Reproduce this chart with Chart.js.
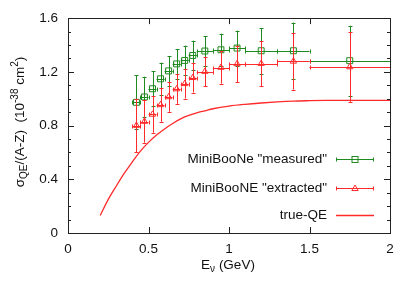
<!DOCTYPE html>
<html>
<head>
<meta charset="utf-8">
<script src="https://cdn.jsdelivr.net/npm/chart.js@4.4.0/dist/chart.umd.min.js"></script>
<style>
  html, body { margin: 0; padding: 0; background: #fff; }
</style>
</head>
<body>
<canvas id="qeChart" width="415" height="291"></canvas>
<script>
// MiniBooNE energy bins (GeV)
const energies = [0.425, 0.475, 0.525, 0.575, 0.625, 0.675, 0.725, 0.775, 0.85, 0.95, 1.05, 1.2, 1.4, 1.75];
const binLow   = [0.40, 0.45, 0.50, 0.55, 0.60, 0.65, 0.70, 0.75, 0.80, 0.90, 1.00, 1.10, 1.30, 1.50];
const binHigh  = [0.45, 0.50, 0.55, 0.60, 0.65, 0.70, 0.75, 0.80, 0.90, 1.00, 1.10, 1.30, 1.50, 2.00];

const measured    = [0.973, 1.013, 1.074, 1.148, 1.207, 1.259, 1.285, 1.322, 1.355, 1.364, 1.377, 1.357, 1.357, 1.283];
const measuredErr = [0.20, 0.15, 0.13, 0.12, 0.11, 0.11, 0.11, 0.11, 0.11, 0.12, 0.13, 0.17, 0.21, 0.26];

const extracted    = [0.800, 0.830, 0.883, 0.954, 1.013, 1.072, 1.111, 1.156, 1.202, 1.232, 1.259, 1.261, 1.278, 1.236];
const extractedErr = [0.20, 0.157, 0.136, 0.126, 0.11, 0.11, 0.11, 0.11, 0.11, 0.12, 0.136, 0.166, 0.21, 0.26];

// true-QE curve
const curveE     = [0.2, 0.25, 0.3, 0.35, 0.4, 0.45, 0.5, 0.55, 0.6, 0.65, 0.7, 0.75, 0.8, 0.85, 0.9, 1.0, 1.1, 1.2, 1.3, 1.4, 1.5, 1.6, 1.8, 2.0];
const curveSigma = [0.13, 0.25, 0.35, 0.445, 0.53, 0.61, 0.675, 0.73, 0.775, 0.815, 0.85, 0.875, 0.895, 0.91, 0.925, 0.945, 0.958, 0.968, 0.976, 0.982, 0.985, 0.987, 0.988, 0.988];

const legendLabels = ['MiniBooNe "measured"', 'MiniBooNE "extracted"', 'true-QE'];

const GREEN = '#1f8a1f';
const RED = '#ff2a2a';
const FONT = '"Liberation Sans", Arial, sans-serif';

Chart.defaults.font.family = FONT;
Chart.defaults.font.size = 13.5;
Chart.defaults.color = '#111';

const toPoints = (xs, ys) => xs.map((x, i) => ({ x: x, y: ys[i] }));

// error bars drawn just before each dataset's markers
const errorBars = {
    id: 'errorBars',
    beforeDatasetDraw(chart, args) {
        const ds = chart.data.datasets[args.index];
        if (!ds.yErr) return;
        const xs = chart.scales.x, ys = chart.scales.y;
        const ctx = chart.ctx;
        const r = v => Math.round(v) + 0.5;
        ctx.save();
        ctx.strokeStyle = ds.borderColor;
        ctx.lineWidth = 1;
        ds.data.forEach((p, i) => {
            const px = r(xs.getPixelForValue(p.x));
            const py = r(ys.getPixelForValue(p.y));
            const yt = ys.getPixelForValue(p.y + ds.yErr[i]);
            const yb = ys.getPixelForValue(p.y - ds.yErr[i]);
            const x0 = xs.getPixelForValue(ds.xLow[i]);
            const x1 = xs.getPixelForValue(ds.xHigh[i]);
            ctx.beginPath();
            ctx.moveTo(px, yt); ctx.lineTo(px, yb);
            ctx.moveTo(px - 2, r(yt)); ctx.lineTo(px + 2, r(yt));
            ctx.moveTo(px - 2, r(yb)); ctx.lineTo(px + 2, r(yb));
            ctx.moveTo(x0, py); ctx.lineTo(x1, py);
            ctx.moveTo(r(x0), py - 2); ctx.lineTo(r(x0), py + 2);
            ctx.moveTo(r(x1), py - 2); ctx.lineTo(r(x1), py + 2);
            ctx.stroke();
        });
        ctx.restore();
    }
};

// gnuplot-style frame with inward ticks on all sides
const frame = {
    id: 'frame',
    afterDatasetsDraw(chart) {
        const { ctx, chartArea: a } = chart;
        const xs = chart.scales.x, ys = chart.scales.y;
        ctx.save();
        ctx.strokeStyle = '#222';
        ctx.lineWidth = 1;
        ctx.strokeRect(Math.round(a.left) + 0.5, Math.round(a.top) + 0.5,
            Math.round(a.right - a.left), Math.round(a.bottom - a.top));
        ctx.beginPath();
        for (let i = 1; i < 16; i++) {
            const py = Math.round(ys.getPixelForValue(i / 10)) + 0.5;
            const len = i % 4 === 0 ? 6 : 3;
            ctx.moveTo(a.left, py); ctx.lineTo(a.left + len, py);
            ctx.moveTo(a.right, py); ctx.lineTo(a.right - len, py);
        }
        for (let i = 1; i < 4; i++) {
            const px = Math.round(xs.getPixelForValue(i * 0.5)) + 0.5;
            ctx.moveTo(px, a.bottom); ctx.lineTo(px, a.bottom - 6);
            ctx.moveTo(px, a.top); ctx.lineTo(px, a.top + 6);
        }
        ctx.stroke();
        ctx.restore();
    }
};

// text with sub/superscripts, centred on (x, y)
function drawRich(ctx, parts, x, y) {
    const fontFor = k => (k === 'n' ? '13.5px ' : '10px ') + FONT;
    const shift = { n: 0, sub: 4, sup: -5 };
    let total = 0;
    parts.forEach(p => { ctx.font = fontFor(p[1]); total += ctx.measureText(p[0]).width; });
    let cx = x - total / 2;
    ctx.textAlign = 'left';
    ctx.textBaseline = 'middle';
    parts.forEach(p => {
        ctx.font = fontFor(p[1]);
        ctx.fillText(p[0], cx, y + shift[p[1]]);
        cx += ctx.measureText(p[0]).width;
    });
}

const titlesAndLegend = {
    id: 'titlesAndLegend',
    afterDraw(chart) {
        const ctx = chart.ctx;
        ctx.save();
        ctx.fillStyle = '#111';
        drawRich(ctx, [['E', 'n'], ['\u03bd', 'sub'], [' (GeV)', 'n']], 228, 265);

        ctx.save();
        ctx.translate(20, 122);
        ctx.rotate(-Math.PI / 2);
        drawRich(ctx, [['\u03c3', 'n'], ['QE', 'sub'], ['/(A-Z)  (10', 'n'], ['-38', 'sup'],
            [' cm', 'n'], ['2', 'sup'], [')', 'n']], 0, 0);
        ctx.restore();

        // legend
        const rows = [159, 188, 215];
        const colors = [GREEN, RED, RED];
        const x0 = 336, x1 = 374, xm = 355;
        ctx.font = '13.5px ' + FONT;
        ctx.textAlign = 'right';
        ctx.textBaseline = 'middle';
        legendLabels.forEach((lab, i) => {
            const y = rows[i] + 0.5;
            ctx.fillStyle = '#111';
            ctx.fillText(lab, 327, rows[i]);
            ctx.strokeStyle = colors[i];
            ctx.lineWidth = i === 2 ? 1.3 : 1;
            ctx.beginPath();
            ctx.moveTo(x0, y); ctx.lineTo(x1, y);
            if (i < 2) {
                ctx.moveTo(x0 + 0.5, y - 2); ctx.lineTo(x0 + 0.5, y + 2);
                ctx.moveTo(x1 - 0.5, y - 2); ctx.lineTo(x1 - 0.5, y + 2);
            }
            ctx.stroke();
            if (i === 0) {
                ctx.strokeRect(xm - 3, y - 3, 6, 6);
            } else if (i === 1) {
                ctx.beginPath();
                ctx.moveTo(xm, y - 3.5); ctx.lineTo(xm + 3.2, y + 2); ctx.lineTo(xm - 3.2, y + 2);
                ctx.closePath();
                ctx.stroke();
            }
        });
        ctx.restore();
    }
};

new Chart(document.getElementById('qeChart'), {
    type: 'scatter',
    data: {
        datasets: [
            {
                label: 'true-QE',
                type: 'line',
                data: toPoints(curveE, curveSigma),
                borderColor: RED,
                borderWidth: 1.3,
                pointRadius: 0,
                cubicInterpolationMode: 'monotone',
                fill: false
            },
            {
                label: legendLabels[1],
                data: toPoints(energies, extracted),
                yErr: extractedErr, xLow: binLow, xHigh: binHigh,
                borderColor: RED,
                backgroundColor: 'rgba(0,0,0,0)',
                pointStyle: 'triangle',
                pointRadius: 3.6,
                pointBorderWidth: 1
            },
            {
                label: legendLabels[0],
                data: toPoints(energies, measured),
                yErr: measuredErr, xLow: binLow, xHigh: binHigh,
                borderColor: GREEN,
                backgroundColor: 'rgba(0,0,0,0)',
                pointStyle: 'rect',
                pointRadius: 4.2,
                pointBorderWidth: 1
            }
        ]
    },
    options: {
        responsive: false,
        animation: false,
        layout: { padding: { top: 16, right: 25, left: 0, bottom: 0 } },
        plugins: { legend: { display: false }, tooltip: { enabled: false } },
        scales: {
            x: {
                type: 'linear', min: 0, max: 2,
                grid: { display: false, drawTicks: false },
                border: { display: false },
                ticks: {
                    stepSize: 0.5, padding: 8, maxRotation: 0,
                    callback: v => (v === 0 || v === 1 || v === 2) ? String(v) : v.toFixed(1)
                },
                afterFit: s => { s.height = 58; }
            },
            y: {
                type: 'linear', min: 0, max: 1.6,
                grid: { display: false, drawTicks: false },
                border: { display: false },
                ticks: {
                    stepSize: 0.4, padding: 10,
                    callback: v => v === 0 ? '0' : v.toFixed(1)
                },
                afterFit: s => { s.width = 68; }
            }
        }
    },
    plugins: [errorBars, frame, titlesAndLegend]
});
</script>
</body>
</html>
